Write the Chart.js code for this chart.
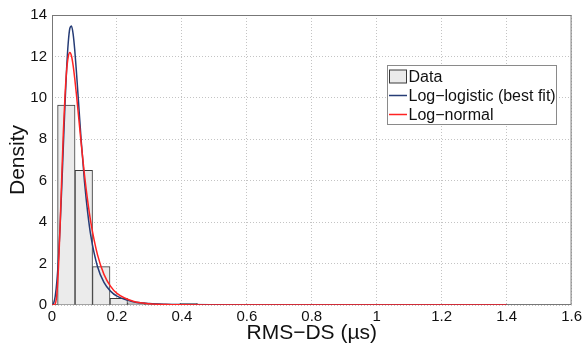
<!DOCTYPE html>
<html lang="en">
<head>
    <meta charset="UTF-8">
    <title>RMS-DS density</title>
    <script src="https://cdn.jsdelivr.net/npm/chart.js"></script>
    <style>
        html, body { margin: 0; padding: 0; background: #fff; }
        #wrap { width: 585px; height: 347px; }
    </style>
</head>
<body>
    <div id="wrap"><canvas id="pdf"></canvas></div>
    <script>
        // histogram of measured RMS delay spread (bin centres in µs, density)
        const binCenters = [0.0441, 0.0979, 0.1517, 0.2055, 0.2593, 0.3131, 0.3669, 0.4207, 0.4745, 0.5283];
        const binDensity = [9.65, 6.5, 1.85, 0.32, 0.11, 0.05, 0.05, 0.08, 0.0, 0.03];

        // fitted pdfs, sampled along x
        const curveX = [0, 0.005, 0.01, 0.015, 0.02, 0.025, 0.03, 0.035, 0.04, 0.045, 0.05, 0.055, 0.06, 0.065,
            0.07, 0.075, 0.08, 0.09, 0.10, 0.11, 0.12, 0.14, 0.16, 0.18, 0.20, 0.25, 0.30, 0.35, 0.40,
            0.5, 0.6, 0.8, 1.0, 1.2, 1.4];
        const logLogistic = [0, 0.08, 0.43, 1.14, 2.27, 3.81, 5.67, 7.70, 9.68, 11.40, 12.66, 13.36, 13.47, 13.09,
            12.32, 11.31, 10.18, 7.92, 5.97, 4.45, 3.30, 1.86, 1.09, 0.67, 0.43, 0.16, 0.073, 0.037, 0.021,
            0.008, 0.003, 0.001, 0, 0, 0];
        const logNormal = [0, 0, 0.06, 0.54, 1.84, 3.86, 6.17, 8.36, 10.10, 11.31, 11.98, 12.19, 12.02, 11.57,
            10.94, 10.20, 9.40, 7.78, 6.29, 5.01, 3.95, 2.43, 1.48, 0.91, 0.56, 0.18, 0.06, 0.022, 0.008,
            0.002, 0, 0, 0, 0, 0];

        const xTickStep = 0.2, xMax = 1.6;
        const yTickStep = 2, yMax = 14;

        const FONT = "'Liberation Sans', Arial, Helvetica, sans-serif";
        const BLUE = "rgb(38, 60, 118)";
        const RED = "rgb(255, 35, 35)";
        const BAR_FILL = "#ebebeb";
        const BAR_EDGE = "#3a3a3a";

        const pairs = (xs, ys) => xs.map((x, i) => ({ x: x, y: ys[i] }));
        // 1 instead of 1.0, 0.2 instead of 0.20000000000000004
        const shortNum = v => String(+Number(v).toFixed(2));

        // axes box under the data, legend on top of everything
        const boxAndLegend = {
            id: "boxAndLegend",
            beforeDatasetsDraw(chart) {
                const { ctx, chartArea: { left, right, top, bottom } } = chart;
                ctx.save();
                ctx.strokeStyle = "#777";
                ctx.lineWidth = 1;
                ctx.strokeRect(left + 0.5, top + 0.5, right - left - 1, bottom - top - 1);
                ctx.restore();
            },
            afterDraw(chart) {
                const ctx = chart.ctx;
                ctx.save();
                const lx = 387, ly = 65, lw = 169, lh = 59;
                ctx.fillStyle = "#fff";
                ctx.fillRect(lx, ly, lw, lh);
                ctx.strokeStyle = "#8a8a8a";
                ctx.lineWidth = 1;
                ctx.strokeRect(lx + 0.5, ly + 0.5, lw, lh);

                const rows = [
                    { label: "Data", kind: "patch", y: 76.5 },
                    { label: "Log\u2212logistic (best fit)", kind: "line", color: BLUE, y: 95.5 },
                    { label: "Log\u2212normal", kind: "line", color: RED, y: 114.5 }
                ];
                ctx.font = "16px " + FONT;
                ctx.textBaseline = "middle";
                rows.forEach(r => {
                    if (r.kind === "patch") {
                        ctx.fillStyle = BAR_FILL;
                        ctx.fillRect(389.5, r.y - 6.5, 17, 13);
                        ctx.strokeStyle = BAR_EDGE;
                        ctx.strokeRect(389.5, r.y - 6.5, 17, 13);
                    } else {
                        ctx.strokeStyle = r.color;
                        ctx.lineWidth = 1.5;
                        ctx.beginPath();
                        ctx.moveTo(389, r.y);
                        ctx.lineTo(407, r.y);
                        ctx.stroke();
                        ctx.lineWidth = 1;
                    }
                    ctx.fillStyle = "#111";
                    ctx.fillText(r.label, 408.5, r.y + 1);
                });
                ctx.restore();
            }
        };

        new Chart(document.getElementById("pdf"), {
            data: {
                datasets: [
                    {
                        type: "line",
                        label: "Log\u2212normal",
                        data: pairs(curveX, logNormal),
                        borderColor: RED,
                        borderWidth: 1.5,
                        pointRadius: 0,
                        cubicInterpolationMode: "monotone",
                        fill: false
                    },
                    {
                        type: "line",
                        label: "Log\u2212logistic (best fit)",
                        data: pairs(curveX, logLogistic),
                        borderColor: BLUE,
                        borderWidth: 1.5,
                        pointRadius: 0,
                        cubicInterpolationMode: "monotone",
                        fill: false
                    },
                    {
                        type: "bar",
                        label: "Data",
                        data: pairs(binCenters, binDensity),
                        backgroundColor: BAR_FILL,
                        borderColor: BAR_EDGE,
                        borderWidth: 1,
                        borderSkipped: "bottom",
                        barPercentage: 1,
                        categoryPercentage: 1
                    }
                ]
            },
            options: {
                responsive: true,
                maintainAspectRatio: false,
                animation: false,
                layout: { padding: { left: 0, right: 13, top: 15, bottom: 0 } },
                plugins: {
                    legend: { display: false },
                    tooltip: { enabled: false }
                },
                scales: {
                    x: {
                        type: "linear",
                        offset: false,
                        min: 0,
                        max: xMax,
                        afterFit: s => { s.height = 42; },
                        ticks: {
                            stepSize: xTickStep,
                            padding: 3,
                            color: "#111",
                            font: { family: FONT, size: 15 },
                            maxRotation: 0,
                            callback: shortNum
                        },
                        grid: { color: "#c4c4c4", drawTicks: false, offset: false },
                        border: { display: false, dash: [1, 2] },
                        title: {
                            display: true,
                            text: "RMS\u2212DS (\u00b5s)",
                            color: "#111",
                            font: { family: FONT, size: 21 },
                            padding: { top: 0, bottom: 1 }
                        }
                    },
                    y: {
                        min: 0,
                        max: yMax,
                        afterFit: s => { s.width = 52; },
                        ticks: {
                            stepSize: yTickStep,
                            padding: 5,
                            color: "#111",
                            font: { family: FONT, size: 15 },
                            callback: shortNum
                        },
                        grid: { color: "#c4c4c4", drawTicks: false },
                        border: { display: false, dash: [1, 2] },
                        title: {
                            display: true,
                            text: "Density",
                            color: "#111",
                            font: { family: FONT, size: 21 },
                            padding: { top: 6, bottom: 0 }
                        }
                    }
                }
            },
            plugins: [boxAndLegend]
        });
    </script>
</body>
</html>
